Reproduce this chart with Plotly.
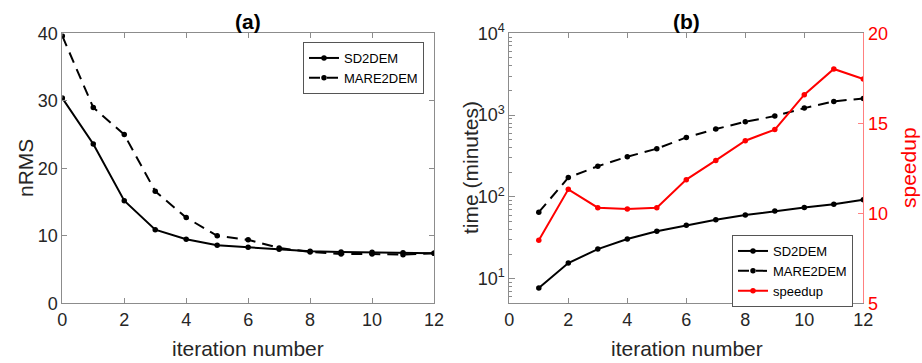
import plotly.graph_objects as go
import numpy as np

# ---- data ----
iter_a = list(range(0, 13))
nrms_sd2dem = [30.4, 23.6, 15.2, 10.9, 9.5, 8.6, 8.3, 8.0, 7.7, 7.6, 7.55, 7.5, 7.4]
nrms_mare2dem = [39.6, 29.0, 25.0, 16.6, 12.7, 10.0, 9.4, 8.2, 7.6, 7.3, 7.3, 7.2, 7.4]

iter_b = list(range(1, 13))
time_sd2dem = [7.7, 15.5, 23, 30.5, 38, 45, 52.5, 60, 67, 74, 81.5, 92]
time_mare2dem = [65, 172, 237, 310, 388, 534, 675, 828, 972, 1217, 1470, 1600]
speedup = [8.5, 11.33, 10.31, 10.24, 10.31, 11.87, 12.94, 14.03, 14.65, 16.59, 18.02, 17.46]

x_ticks = [0, 2, 4, 6, 8, 10, 12]
nrms_ticks = [0, 10, 20, 30, 40]
time_ticks = [10, 100, 1000, 10000]
time_ticktext = ["10<sup>1</sup>", "10<sup>2</sup>", "10<sup>3</sup>", "10<sup>4</sup>"]
time_minor = [m * d for d in (1, 10, 100, 1000) for m in range(2, 10) if 5 <= m * d <= 10000]
speed_ticks = [5, 10, 15, 20]

W, H = 922, 363
TXT = "#262626"
AX = "#8c8c8c"
RED = "#ff0000"
FONT = "Liberation Sans, Arial, sans-serif"

fig = go.Figure()

line_w = 2
mk = dict(size=5.5, symbol="circle")

fig.add_trace(go.Scatter(x=iter_a, y=nrms_sd2dem, mode="lines+markers", name="SD2DEM",
                         line=dict(color="black", width=line_w), marker=dict(color="black", **mk),
                         xaxis="x", yaxis="y", legend="legend"))
fig.add_trace(go.Scatter(x=iter_a, y=nrms_mare2dem, mode="lines+markers", name="MARE2DEM",
                         line=dict(color="black", width=line_w, dash="11px,7px"), marker=dict(color="black", **mk),
                         xaxis="x", yaxis="y", legend="legend"))

fig.add_trace(go.Scatter(x=iter_b, y=time_sd2dem, mode="lines+markers", name="SD2DEM",
                         line=dict(color="black", width=line_w), marker=dict(color="black", **mk),
                         xaxis="x2", yaxis="y2", legend="legend2"))
fig.add_trace(go.Scatter(x=iter_b, y=time_mare2dem, mode="lines+markers", name="MARE2DEM",
                         line=dict(color="black", width=line_w, dash="11px,7px"), marker=dict(color="black", **mk),
                         xaxis="x2", yaxis="y2", legend="legend2"))
fig.add_trace(go.Scatter(x=iter_b, y=speedup, mode="lines+markers", name="speedup",
                         line=dict(color=RED, width=line_w), marker=dict(color=RED, **mk),
                         xaxis="x2", yaxis="y3", legend="legend2"))

ydom = [59.7 / H, 329.7 / H]
xdom1 = [62.3 / W, 434 / W]
xdom2 = [509.3 / W, 863.3 / W]

tickfont = dict(family=FONT, size=18, color=TXT)

common_x = dict(range=[0, 12], tickvals=x_ticks, showline=True, linecolor=AX, linewidth=1,
                mirror="ticks", ticks="inside", ticklen=5, tickcolor=AX, showgrid=False,
                zeroline=False, tickfont=tickfont, automargin=False)

fig.update_layout(
    width=W, height=H,
    margin=dict(l=0, r=0, t=0, b=0, autoexpand=False),
    paper_bgcolor="white", plot_bgcolor="white",
    showlegend=True,
    xaxis=dict(domain=xdom1, anchor="y", **common_x),
    yaxis=dict(domain=ydom, anchor="x", range=[0, 40], tickvals=nrms_ticks, showline=True,
               linecolor=AX, linewidth=1, mirror="ticks", ticks="inside", ticklen=5, tickcolor=AX,
               showgrid=False, zeroline=False, tickfont=tickfont, automargin=False),
    xaxis2=dict(domain=xdom2, anchor="y2", **common_x),
    yaxis2=dict(domain=ydom, anchor="x2", type="log", range=[np.log10(5), 4], tickvals=time_ticks,
                ticktext=time_ticktext, showline=True, linecolor=AX, linewidth=1, mirror=False,
                ticks="inside", ticklen=6, tickcolor=AX, showgrid=False, zeroline=False,
                tickfont=tickfont, automargin=False,
                minor=dict(tickvals=time_minor, ticks="inside", ticklen=3, tickcolor=AX, showgrid=False)),
    yaxis3=dict(anchor="x2", overlaying="y2", side="right", range=[5, 20], tickvals=speed_ticks,
                showline=True, linecolor="#ff8080", linewidth=1, ticks="inside", ticklen=5,
                tickcolor="#ff8080", showgrid=False, zeroline=False, automargin=False,
                tickfont=dict(family=FONT, size=18, color=RED)),
    legend=dict(x=303 / W, y=1 - 42 / H, xanchor="left", yanchor="top",
                bgcolor="white", bordercolor="#555555", borderwidth=1,
                font=dict(family=FONT, size=13, color="black"), tracegroupgap=0,
                itemwidth=30),
    legend2=dict(x=732 / W, y=1 - 235 / H, xanchor="left", yanchor="top",
                 bgcolor="white", bordercolor="#555555", borderwidth=1,
                 font=dict(family=FONT, size=13, color="black"), tracegroupgap=0,
                 itemwidth=30),
)

def ann(text, x, y, size, color=TXT, angle=0, bold=False):
    fig.add_annotation(text=("<b>%s</b>" % text) if bold else text,
                       x=x / W, y=1 - y / H, xref="paper", yref="paper",
                       showarrow=False, textangle=angle, xanchor="center", yanchor="middle",
                       font=dict(family=FONT, size=size, color=color))

ann("nRMS", 25, 168, 21, angle=-90)
ann("iteration number", 248, 348, 21)
ann("iteration number", 686.7, 348, 21)
ann("time (minutes)", 470, 168, 21, angle=-90)
ann("speedup", 908, 168, 21, color=RED, angle=-90)
ann("(a)", 248, 22, 21, color="black", bold=True)
ann("(b)", 686.7, 22, 21, color="black", bold=True)

fig.write_html("out.html", config={"displayModeBar": False},
               post_script="document.body.style.margin='0';document.body.style.overflow='hidden';")
